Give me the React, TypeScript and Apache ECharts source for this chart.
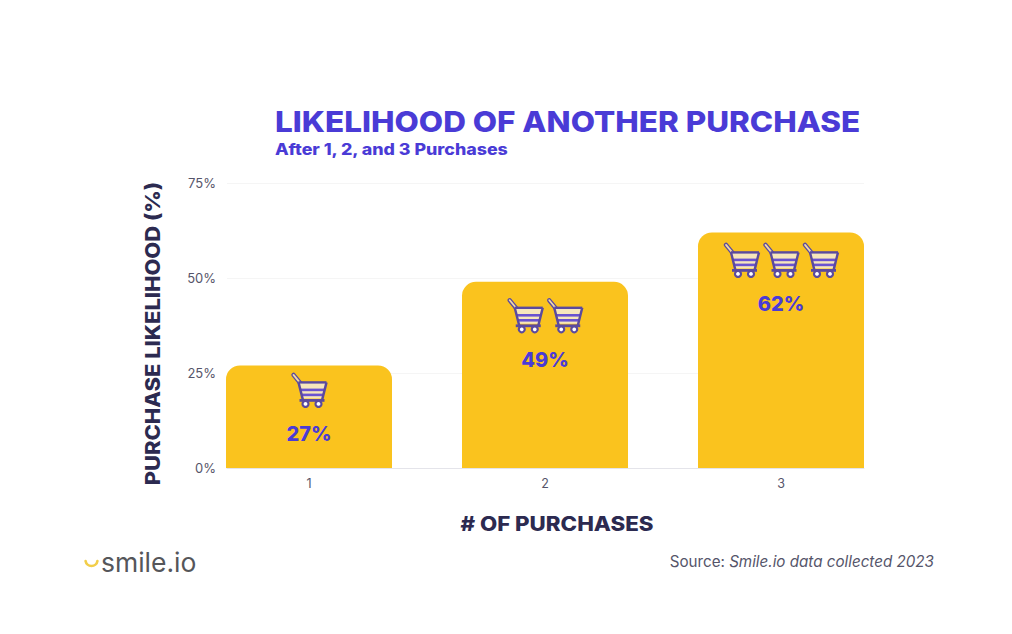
import React, { useEffect, useRef } from "react";
import * as echarts from "echarts";

const categories = ["1", "2", "3"];
const likelihood = [27, 49, 62];
const cartCounts = [1, 2, 3];
const yTicks = [0, 25, 50, 75];
const titleText = "LIKELIHOOD OF ANOTHER PURCHASE";
const subtitleText = "After 1, 2, and 3 Purchases";
const yAxisName = "PURCHASE LIKELIHOOD (%)";
const xAxisName = "# OF PURCHASES";
const logoText = "smile.io";

const FONT = "Inter";
const PURPLE = "#4A3BD6";
const NAVY = "#2C2A50";
const YELLOW = "#FAC31E";
const cartDrops = [25, 34, 28];
const labelDrops = [68.5, 78, 71.5];

function cartChildren(cx: number, cy: number) {
  const dark = "#5B4A9E";
  const pale = "#F6E6BC";
  const violet = "#6A52D0";
  const ox = cx - 17.5;
  const oy = cy - 17;
  return [
    { type: "line", x: ox, y: oy, shape: { x1: 2, y1: 1.5, x2: 9, y2: 10 }, style: { stroke: dark, lineWidth: 4.4, lineCap: "round" } },
    { type: "line", x: ox, y: oy, shape: { x1: 2, y1: 1.5, x2: 9, y2: 10 }, style: { stroke: "#F0D9A8", lineWidth: 1.8, lineCap: "round" } },
    { type: "polygon", x: ox, y: oy, shape: { points: [[7, 9], [35, 9], [31, 25], [11, 25]] }, style: { fill: pale, stroke: null } },
    { type: "line", x: ox, y: oy, shape: { x1: 7, y1: 9, x2: 35, y2: 9 }, style: { stroke: dark, lineWidth: 2.4 } },
    { type: "line", x: ox, y: oy, shape: { x1: 9, y1: 16.5, x2: 33, y2: 16.5 }, style: { stroke: violet, lineWidth: 2.6 } },
    { type: "line", x: ox, y: oy, shape: { x1: 10, y1: 21.5, x2: 32, y2: 21.5 }, style: { stroke: violet, lineWidth: 2.6 } },
    { type: "line", x: ox, y: oy, shape: { x1: 7, y1: 9, x2: 11.5, y2: 27 }, style: { stroke: dark, lineWidth: 2.4 } },
    { type: "line", x: ox, y: oy, shape: { x1: 35, y1: 9, x2: 30.5, y2: 27 }, style: { stroke: dark, lineWidth: 2.4 } },
    { type: "line", x: ox, y: oy, shape: { x1: 8, y1: 27, x2: 33, y2: 27 }, style: { stroke: dark, lineWidth: 2.8 } },
    { type: "circle", x: ox, y: oy, shape: { cx: 14, cy: 30.5, r: 3 }, style: { fill: "#fff", stroke: dark, lineWidth: 2.2 } },
    { type: "circle", x: ox, y: oy, shape: { cx: 27, cy: 30.5, r: 3 }, style: { fill: "#fff", stroke: dark, lineWidth: 2.2 } },
  ];
}

export default function App() {
  const ref = useRef<HTMLDivElement>(null);

  useEffect(() => {
    document.body.style.margin = "0";
    document.body.style.background = "#fff";
    const chart = echarts.init(ref.current!, null, { renderer: "svg" });
    chart.setOption({
      animation: false,
      backgroundColor: "#ffffff",
      textStyle: { fontFamily: FONT },
      grid: [
        { left: 227, width: 637, top: 183, height: 285 },
        { left: 191, width: 708, top: 183, height: 285 },
      ],
      xAxis: [
        {
          type: "value",
          gridIndex: 0,
          min: 0,
          max: 1,
          axisLine: { show: true, onZero: false, lineStyle: { color: "#E4E4EA", width: 1 } },
          axisTick: { show: false },
          axisLabel: { show: false },
          splitLine: { show: false },
        },
        {
          type: "category",
          gridIndex: 1,
          data: categories,
          axisLine: { show: false },
          axisTick: { show: false },
          axisLabel: { color: "#55556A", fontFamily: FONT, fontSize: 12.5, margin: 9 },
        },
      ],
      yAxis: [
        {
          type: "value",
          gridIndex: 0,
          min: yTicks[0],
          max: yTicks[yTicks.length - 1],
          interval: 25,
          axisLine: { show: false },
          axisTick: { show: false },
          axisLabel: { formatter: "{value}%", color: "#55556A", fontFamily: FONT, fontSize: 13, margin: 11 },
          splitLine: { show: true, lineStyle: { color: "#F5F5F5", width: 1 } },
        },
        {
          type: "value",
          gridIndex: 1,
          min: yTicks[0],
          max: yTicks[yTicks.length - 1],
          interval: 25,
          show: false,
          splitLine: { show: false },
        },
      ],
      series: [
        {
          type: "bar",
          xAxisIndex: 1,
          yAxisIndex: 1,
          data: likelihood,
          barWidth: 166,
          itemStyle: { color: YELLOW, borderRadius: [14, 14, 0, 0] },
          silent: true,
        },
        {
          type: "custom",
          xAxisIndex: 1,
          yAxisIndex: 1,
          coordinateSystem: "cartesian2d",
          silent: true,
          z: 5,
          data: likelihood.map((v, i) => [i, v, cartCounts[i]]),
          renderItem: (params: any, api: any) => {
            const i = params.dataIndex;
            const [cx, top] = api.coord([api.value(0), api.value(1)]);
            const n = api.value(2) as number;
            const gap = 39.5;
            const children: any[] = [];
            for (let k = 0; k < n; k++) {
              children.push(...cartChildren(cx + (k - (n - 1) / 2) * gap, top + cartDrops[i]));
            }
            children.push({
              type: "text",
              x: cx,
              y: top + labelDrops[i],
              style: {
                text: `${api.value(1)}%`,
                align: "center",
                verticalAlign: "middle",
                fontFamily: FONT,
                fontSize: 20,
                fontWeight: 800,
                fill: PURPLE,
              },
            });
            return { type: "group", children };
          },
        },
      ],
      graphic: [
        {
          type: "text",
          x: 275,
          y: 121,
          scaleX: 1.085,
          style: {
            text: titleText,
            fontFamily: FONT,
            fontSize: 29,
            fontWeight: 800,
            fill: PURPLE,
            verticalAlign: "middle",
          },
        },
        {
          type: "text",
          x: 275,
          y: 149,
          scaleX: 1.15,
          style: {
            text: subtitleText,
            fontFamily: FONT,
            fontSize: 15.5,
            fontWeight: 800,
            fill: PURPLE,
            verticalAlign: "middle",
          },
        },
        {
          type: "text",
          x: 557,
          y: 523,
          scaleX: 1.115,
          style: {
            text: xAxisName,
            fontFamily: FONT,
            fontSize: 20,
            fontWeight: 800,
            fill: NAVY,
            align: "center",
            verticalAlign: "middle",
          },
        },
        {
          type: "text",
          x: 153,
          y: 333.5,
          rotation: Math.PI / 2,
          scaleX: 1.096,
          style: {
            text: yAxisName,
            fontFamily: FONT,
            fontSize: 20,
            fontWeight: 800,
            fill: NAVY,
            align: "center",
            verticalAlign: "middle",
          },
        },
        {
          type: "arc",
          shape: { cx: 91.5, cy: 560, r: 6, startAngle: Math.PI * 0.05, endAngle: Math.PI * 0.95 },
          style: { stroke: "#F2CE4A", lineWidth: 2.6, fill: "none", lineCap: "round" },
        },
        {
          type: "text",
          x: 101,
          y: 562,
          style: {
            text: logoText,
            fontFamily: "Inter",
            fontSize: 26.5,
            fontWeight: 400,
            fill: "#55565A",
            verticalAlign: "middle",
          },
        },
        {
          type: "text",
          x: 934,
          y: 561,
          style: {
            text: "{a|Source: }{b|Smile.io data collected 2023}",
            align: "right",
            verticalAlign: "middle",
            rich: {
              a: { fontFamily: FONT, fontSize: 15.2, fill: "#55556A", color: "#55556A" },
              b: { fontFamily: FONT, fontSize: 15.2, fontStyle: "italic", fill: "#55556A", color: "#55556A" },
            },
          },
        },
      ],
    });
    return () => chart.dispose();
  }, []);

  return <div ref={ref} style={{ width: 1012, height: 634, position: "absolute", left: 0, top: 0 }} />;
}
